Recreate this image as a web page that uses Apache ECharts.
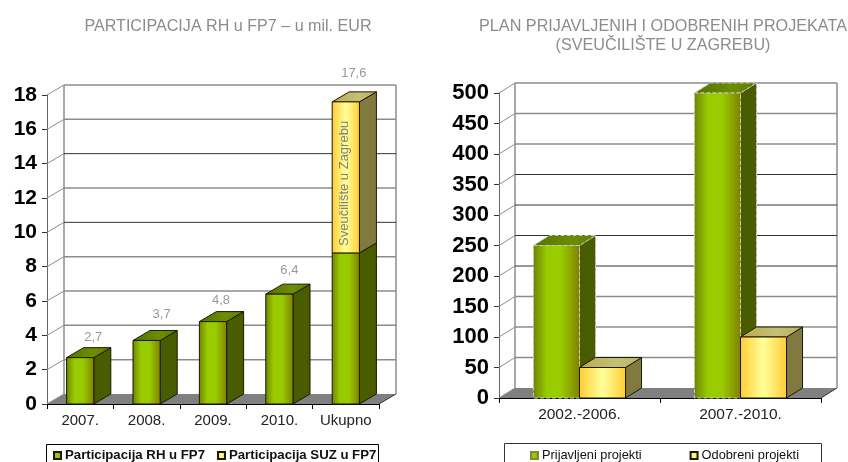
<!DOCTYPE html>
<html>
<head>
<meta charset="utf-8">
<script src="https://cdn.jsdelivr.net/npm/echarts@6/dist/echarts.min.js"></script>
<style>
  html, body { margin: 0; padding: 0; background: #fff; }
  #main { width: 848px; height: 462px; }
</style>
</head>
<body>
<div id="main"></div>
<script>
// lijevi graf
const yearLabels = ['2007.', '2008.', '2009.', '2010.', 'Ukupno'];
const rhValues = [2.7, 3.7, 4.8, 6.4, 8.8];
const suzValues = [null, null, null, null, 8.8];
const totalLabels = ['2,7', '3,7', '4,8', '6,4', '17,6'];
const leftTicks = [0, 2, 4, 6, 8, 10, 12, 14, 16, 18];
const leftDarkTicks = [10, 14];

// desni graf
const periodLabels = ['2002.-2006.', '2007.-2010.'];
const appliedValues = [250, 500];
const approvedValues = [50, 100];
const rightTicks = [0, 50, 100, 150, 200, 250, 300, 350, 400, 450, 500];
const rightDarkTicks = [200, 250, 300, 350];

function grad(stops) {
  return {
    type: 'linear', x: 0, y: 0, x2: 1, y2: 0,
    colorStops: stops.map(function (s) { return { offset: s[0], color: s[1] }; })
  };
}

const green = {
  front: grad([[0, '#6f8200'], [0.3, '#99cc00'], [0.6, '#99cc00'], [1, '#7f7f00']]),
  top: grad([[0, '#557000'], [0.6, '#6b8f00'], [1, '#647a00']]),
  side: '#4a5c00'
};
const yellow = {
  front: grad([[0, '#ffcc33'], [0.5, '#ffff99'], [1, '#ffcc33']]),
  top: grad([[0, '#bfa850'], [0.6, '#c4bf78'], [1, '#bdb05c']]),
  side: '#807a40'
};

// pod i zidovi, crtaju se kroz osi grafa
function wallSeries(xIndex, ticks, darkTicks, depth, catCount) {
  return {
    type: 'custom',
    xAxisIndex: xIndex,
    yAxisIndex: xIndex,
    silent: true,
    z: 1,
    encode: { x: 0, y: 1 },
    data: ticks.map(function (t) { return [0, t]; }),
    renderItem: function (params, api) {
      const v = api.value(1);
      const catW = api.size([1, 0])[0];
      const p = api.coord([0, v]);
      const x0 = p[0] - catW / 2;
      const x1 = x0 + catW * catCount;
      const y = p[1];
      const dx = depth[0], dy = depth[1];
      const dark = darkTicks.indexOf(v) >= 0;
      const color = dark ? '#333' : '#8c8c8c';
      const width = dark ? 1 : 1.5;
      const children = [];
      if (v === 0) {
        children.push({
          type: 'polygon',
          shape: { points: [[x0, y], [x0 + dx, y + dy], [x1 + dx, y + dy], [x1, y]] },
          style: { fill: '#808080', stroke: null }
        });
        // lijevi i desni zid
        const top = api.coord([0, ticks[ticks.length - 1]])[1];
        [x0 + dx, x1 + dx].forEach(function (x) {
          children.push({
            type: 'line',
            shape: { x1: x, y1: y + dy, x2: x, y2: top + dy },
            style: { stroke: '#8c8c8c', lineWidth: 1.5 }
          });
        });
        children.push({
          type: 'line',
          shape: { x1: x1, y1: y, x2: x1 + dx, y2: y + dy },
          style: { stroke: '#333', lineWidth: 1 }
        });
      } else {
        children.push({
          type: 'line',
          shape: { x1: x0 + dx, y1: y + dy, x2: x1 + dx, y2: y + dy },
          style: { stroke: color, lineWidth: width }
        });
      }
      children.push({
        type: 'line',
        shape: { x1: x0, y1: y, x2: x0 + dx, y2: y + dy },
        style: { stroke: '#8c8c8c', lineWidth: 1 }
      });
      return { type: 'group', children: children };
    }
  };
}

// 3D stupac: prednja strana, vrh, bok
function prismSeries(cfg) {
  return {
    type: 'custom',
    name: cfg.name,
    xAxisIndex: cfg.axis,
    yAxisIndex: cfg.axis,
    z: cfg.z,
    itemStyle: { color: cfg.paint.front, borderColor: cfg.iconEdge || cfg.edge, borderWidth: 1 },
    encode: { x: 0, y: 2 },
    data: cfg.values.map(function (v, i) {
      const base = cfg.bases ? (cfg.bases[i] || 0) : 0;
      return v == null ? [i, null, null] : [i, base, base + v];
    }),
    renderItem: function (params, api) {
      if (isNaN(api.value(2))) return null;
      const catW = api.size([1, 0])[0];
      const w = catW * cfg.barShare;
      const bottom = api.coord([api.value(0), api.value(1)]);
      const top = api.coord([api.value(0), api.value(2)]);
      const x = bottom[0] + cfg.offset * w;
      const dx = cfg.depth[0], dy = cfg.depth[1];
      const line = {
        stroke: cfg.edge,
        lineWidth: 1,
        lineDash: cfg.dash ? [4, 2] : null,
        lineJoin: 'round'
      };
      const children = [
        {
          type: 'polygon',
          shape: { points: [[x + w, top[1]], [x + w + dx, top[1] + dy], [x + w + dx, bottom[1] + dy], [x + w, bottom[1]]] },
          style: Object.assign({ fill: cfg.paint.side }, line)
        },
        {
          type: 'polygon',
          shape: { points: [[x, top[1]], [x + dx, top[1] + dy], [x + w + dx, top[1] + dy], [x + w, top[1]]] },
          style: Object.assign({ fill: cfg.paint.top }, line)
        },
        {
          type: 'rect',
          shape: { x: x, y: top[1], width: w, height: bottom[1] - top[1] },
          style: Object.assign({ fill: cfg.paint.front }, line)
        }
      ];
      if (cfg.inner) {
        children.push({
          type: 'text',
          x: x + w * 0.46,
          y: (top[1] + bottom[1]) / 2 + 6,
          rotation: Math.PI / 2,
          style: {
            text: cfg.inner, fill: '#808080', fontSize: 13,
            fontFamily: 'Liberation Sans', align: 'center', verticalAlign: 'middle'
          }
        });
      }
      return { type: 'group', children: children };
    }
  };
}

// vrijednosti iznad stupaca, svaka ima svoj pomak kao u originalu
const labelNudge = [[13, 20], [15, 26], [8, 21], [10, 24], [8, 28]];

function totalSeries(axis, values, labels, bases) {
  return {
    type: 'custom',
    xAxisIndex: axis,
    yAxisIndex: axis,
    z: 5,
    silent: true,
    encode: { x: 0, y: 1 },
    data: values.map(function (v, i) { return [i, v + (bases[i] || 0)]; }),
    renderItem: function (params, api) {
      const p = api.coord([api.value(0), api.value(1)]);
      const nudge = labelNudge[params.dataIndex];
      return {
        type: 'text',
        x: p[0] + nudge[0],
        y: p[1] - nudge[1],
        style: {
          text: labels[params.dataIndex], fill: '#999999', fontSize: 13,
          fontFamily: 'Liberation Sans', align: 'center', verticalAlign: 'middle'
        }
      };
    }
  };
}

function xAxis(grid, labels, size) {
  return {
    type: 'category',
    gridIndex: grid,
    data: labels,
    axisLine: { lineStyle: { color: '#000', width: 1 } },
    axisTick: { show: true, length: 5, alignWithLabel: false, lineStyle: { color: '#000' } },
    axisLabel: { color: '#222', fontSize: size, margin: 9, fontFamily: 'Liberation Sans', interval: 0 },
    splitLine: { show: false }
  };
}

function yAxis(grid, max, interval, size) {
  return {
    type: 'value',
    gridIndex: grid,
    min: 0,
    max: max,
    interval: interval,
    axisLine: { show: true, lineStyle: { color: '#666', width: 1 } },
    axisTick: { show: true, length: 5, lineStyle: { color: '#333' } },
    axisLabel: {
      color: '#000', fontSize: size, fontWeight: 'bold', margin: 10,
      fontFamily: 'Liberation Sans', padding: [6, 0, 0, 0]
    },
    splitLine: { show: false }
  };
}

function legendOf(names, left, gap, size, weight) {
  return {
    left: left,
    top: 449,
    orient: 'horizontal',
    icon: 'rect',
    itemWidth: 7,
    itemHeight: 7,
    itemGap: gap,
    padding: 0,
    selectedMode: false,
    data: names,
    textStyle: { fontSize: size, fontWeight: weight, color: '#111', fontFamily: 'Liberation Sans', padding: [0, 0, 0, -1] }
  };
}

const leftDepth = [17, -10];
const rightDepth = [16, -10];

const option = {
  backgroundColor: '#fff',
  animation: false,
  title: [
    {
      text: 'PARTICIPACIJA RH u FP7 – u mil. EUR',
      left: 223, top: 14, textAlign: 'center',
      textStyle: { fontSize: 16.1, fontWeight: 'normal', color: '#8c8c8c', fontFamily: 'Liberation Sans' }
    },
    {
      text: 'PLAN PRIJAVLJENIH I ODOBRENIH PROJEKATA\n(SVEUČILIŠTE U ZAGREBU)',
      left: 658, top: 12, textAlign: 'center',
      textStyle: { fontSize: 16.2, lineHeight: 19, fontWeight: 'normal', color: '#8c8c8c', fontFamily: 'Liberation Sans' }
    }
  ],
  grid: [
    { left: 47, top: 95, width: 332, height: 309 },
    { left: 499, top: 93, width: 322, height: 305 }
  ],
  xAxis: [xAxis(0, yearLabels, 15), xAxis(1, periodLabels, 15.5)],
  yAxis: [yAxis(0, 18, 2, 21), yAxis(1, 500, 50, 22)],
  legend: [
    legendOf(['Participacija RH u FP7', 'Participacija SUZ u FP7'], 53, 12, 13.2, 'bold'),
    legendOf(['Prijavljeni projekti', 'Odobreni projekti'], 530, 48, 12.8, 'normal')
  ],
  graphic: [
    { type: 'rect', shape: { x: 46.5, y: 444.5, width: 332, height: 30 }, style: { fill: 'none', stroke: '#000' }, z: 0 },
    { type: 'rect', shape: { x: 504.5, y: 443.5, width: 317, height: 30 }, style: { fill: 'none', stroke: '#333' }, z: 0 }
  ],
  series: [
    wallSeries(0, leftTicks, leftDarkTicks, leftDepth, yearLabels.length),
    prismSeries({
      name: 'Participacija RH u FP7', axis: 0, z: 3, values: rhValues, paint: green,
      barShare: 0.41, offset: -0.5, depth: leftDepth, edge: '#1a1a00'
    }),
    prismSeries({
      name: 'Participacija SUZ u FP7', axis: 0, z: 4, values: suzValues, bases: rhValues, paint: yellow,
      barShare: 0.41, offset: -0.5, depth: leftDepth, edge: '#1a1a00', inner: 'Sveučilište u Zagrebu'
    }),
    totalSeries(0, rhValues, totalLabels, suzValues),
    wallSeries(1, rightTicks, rightDarkTicks, rightDepth, periodLabels.length),
    prismSeries({
      name: 'Prijavljeni projekti', axis: 1, z: 3, values: appliedValues, paint: green,
      barShare: 0.286, offset: -1, depth: rightDepth, edge: '#c8c8c8', iconEdge: '#7f8c30', dash: true
    }),
    prismSeries({
      name: 'Odobreni projekti', axis: 1, z: 4, values: approvedValues, paint: yellow,
      barShare: 0.286, offset: 0, depth: rightDepth, edge: '#1a1a00'
    })
  ]
};

const chart = echarts.init(document.getElementById('main'), null, { renderer: 'canvas' });
chart.setOption(option);
</script>
</body>
</html>
